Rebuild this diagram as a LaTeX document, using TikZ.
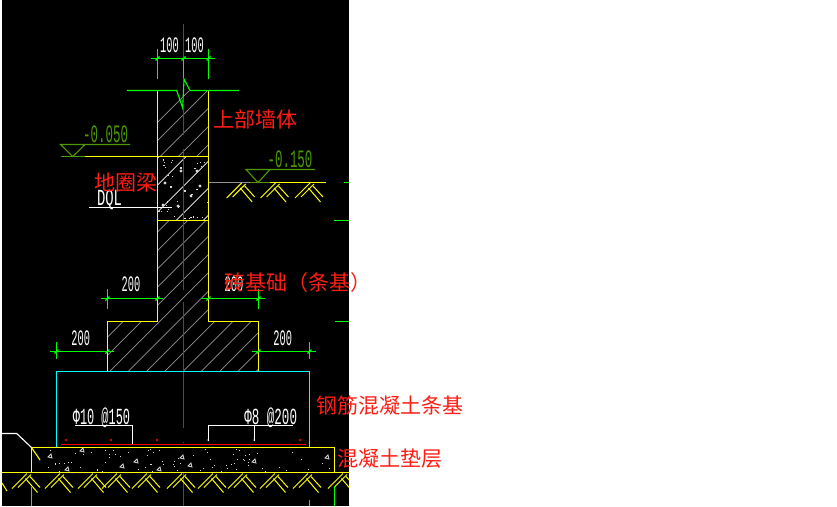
\documentclass[tikz,border=0pt]{standalone}
\usepackage{fontspec}
\newfontfamily\cjk{Noto Sans CJK SC}
\newfontfamily\cad[FakeStretch=0.47]{Liberation Mono}
\definecolor{cadyellow}{RGB}{255,255,0}
\definecolor{cadgreen}{RGB}{0,255,0}
\definecolor{cadcyan}{RGB}{0,255,255}
\definecolor{levelgreen}{RGB}{76,153,0}
\definecolor{labelred}{RGB}{255,30,20}
\tikzstyle{outline}=[draw=cadyellow,line width=1.1pt]
\tikzstyle{dimline}=[draw=cadgreen,line width=1.1pt]
\tikzstyle{levelline}=[draw=levelgreen,line width=1.1pt]
\tikzstyle{axisline}=[draw=red,line width=1pt]
\tikzstyle{hatchline}=[draw=gray!85,line width=0.7pt]
\tikzstyle{beamline}=[draw=white,line width=0.7pt]
\tikzstyle{leader}=[draw=white,line width=1.1pt]
\tikzstyle{soilline}=[draw=cadyellow,line width=1pt]
\tikzstyle{dimtext}=[text=white,inner sep=0pt,font=\cad\fontsize{22}{22}\selectfont]
\tikzstyle{leveltext}=[text=levelgreen,inner sep=0pt,font=\cad\fontsize{25}{25}\selectfont]
\tikzstyle{rebartext}=[text=white,inner sep=0pt,font=\cad\fontsize{23}{23}\selectfont]
\tikzstyle{partlabel}=[text=labelred,inner sep=0pt,anchor=west,font=\cjk\fontsize{21}{21}\selectfont]
\begin{document}
\begin{tikzpicture}[x=1pt,y=-1pt]
  \useasboundingbox (0,0) rectangle (837,506);
  \fill[white] (0,0) rectangle (837,506);
  \fill[black] (2,0) rectangle (349,506);
  % hatch of wall and steps
  \begin{scope}
    \clip (157.5,90.5)--(208.5,90.5)--(208.5,321.5)--(258.5,321.5)--(258.5,371.5)--(107.5,371.5)--(107.5,321.5)--(157.5,321.5)--cycle;
    \foreach \i in {-8,...,12}
      \draw[hatchline] ({128-18.3*\i},371.5) -- ++(320,-320);
  \end{scope}
  % ring beam
  \fill[black] (158,156.5) rectangle (208,220.5);
  \begin{scope}
    \clip (157.5,156.5) rectangle (208.5,220.5);
    \foreach \i in {0,...,4}
      \draw[beamline] ({95+27*\i},220.5) -- ++(100,-100);
    \pgfmathsetseed{17}
    \foreach \i in {1,...,40}
      \fill[white!85!black] ({157.5+50.8*rnd},{156.5+63.7*rnd}) rectangle ++(1.2,1.2);
    \foreach \p in {(165,183),(197,171),(181,171),(163,205),(191,196),(178,206),(200,186)}
      \fill[white!85!black] \p circle (1.6);
  \end{scope}
  % pad speckle
  \begin{scope}
    \clip (31,447.5) rectangle (334.5,472.5);
    \pgfmathsetseed{5}
    \foreach \i in {1,...,80}
      \fill[white!85!black] ({33+299*rnd},{449+22*rnd}) rectangle ++(1,1);
    \foreach \p in {(48,457),(80,451),(134,462),(180,458),(188,466),(252,462),(325,458),(65,470),(157,470),(120,467)}
      \draw[white!85!black,line width=0.8pt] \p -- ++(3,-3) -- ++(1,4) -- cycle;
  \end{scope}
  % axis
  \draw[axisline] (183.5,24)--(183.5,58);
  \draw[axisline] (183.5,108)--(183.5,135);
  \draw[axisline] (183.5,149)--(183.5,288);
  \draw[axisline] (183.5,302)--(183.5,428);
  \draw[axisline] (183.5,473)--(183.5,506);
  \draw[axisline] (183.5,288)--(183.5,289.5);
  \draw[axisline] (183.5,441.5)--(183.5,443);
  % outlines
  \draw[outline] (157.5,90.5)--(157.5,321.5)--(107.5,321.5)--(107.5,371.5)--(258.5,371.5)--(258.5,321.5)--(208.5,321.5)--(208.5,90.5);
  \draw[outline] (85,156.5)--(208.5,156.5);
  \draw[outline] (157.5,220.5)--(208.5,220.5);
  \draw[draw=cadcyan,line width=1.1pt] (56.5,447.5)--(56.5,371.5)--(309.5,371.5)--(309.5,447.5);
  \draw[outline] (31.5,472.5)--(31.5,447.5)--(334.5,447.5)--(334.5,472.5);
  \draw[outline] (2,472.5)--(349,472.5);
  \draw[leader] (2,433.5)--(16.7,433.5)--(31.5,447.5);
  \draw[outline] (31.5,447.5)--(40,460);
  % soil marks
  \begin{scope}
    \clip (2,472) rectangle (349,506);
    \foreach \a in {27,60,93,117,147,182,213,243,275,308,343} {
      \draw[soilline] (\a,473.5)--++(-15,15) (\a+4,474.5)--++(-13,13);
      \draw[soilline] (\a-1.5,478.5)--++(12,14) (\a+3,476.5)--++(10,11);
    }
    \draw[soilline] (2,483)--(7,491);
  \end{scope}
  \foreach \a in {241.7,275.5,310} {
    \draw[soilline] (\a,183)--++(-15,15) (\a+4,184)--++(-13,13);
    \draw[soilline] (\a-1.5,188)--++(12,14) (\a+3,186)--++(10,11);
  }
  % top break line
  \draw[dimline] (127,90.5)--(176.7,90.5)--(182.7,108)--(184,79)--(190,90.5)--(239,90.5);
  % dimensions
  \draw[dimline] (151,58.5)--(215,58.5);
  \draw[dimline] (157.5,49)--(157.5,78.7);
  \draw[dimline] (183.5,58.5)--(183.5,78);
  \draw[dimline] (208.5,49)--(208.5,78.7);
  \foreach \x in {157.5,183.5,208.5}
    \draw[dimline] (\x-2,60.5)--(\x+2,56.5);
  \draw[dimline] (101,298.5)--(163.3,298.5);
  \draw[dimline] (107.5,289)--(107.5,309);
  \draw[dimline] (201.7,298.5)--(265,298.5);
  \draw[dimline] (258.5,289)--(258.5,309);
  \foreach \x in {107.5,157.5,208.5,258.5}
    \draw[dimline] (\x-2,300.5)--(\x+2,296.5);
  \draw[dimline] (50,351.5)--(113.7,351.5);
  \draw[dimline] (56.5,342)--(56.5,358.7);
  \draw[dimline] (252,351.5)--(315.7,351.5);
  \draw[dimline] (309.5,342)--(309.5,358.7);
  \foreach \x in {56.5,107.5,258.5,309.5}
    \draw[dimline] (\x-2,353.5)--(\x+2,349.5);
  % stray green ends
  \draw[dimline] (31.5,487)--(31.5,506);
  \draw[dimline] (334.5,486)--(334.5,506);
  \draw[dimline] (309.5,500)--(309.5,506);
  \draw[dimline] (344,182.5)--(349,182.5);
  \draw[dimline] (334,220.5)--(349,220.5);
  \draw[dimline] (335,321.5)--(349,321.5);
  % levels
  \draw[levelline] (130,144.5)--(60.5,144.5)--(72.7,156.5)--(85,144.5);
  \draw[levelline] (60.5,156.5)--(85,156.5);
  \draw[levelline] (315,169.5)--(246,169.5)--(258,182.5)--(270,169.5);
  \draw[draw=gray!85,line width=1.1pt] (208.5,182.5)--(250,182.5);
  \draw[levelline] (250,182.5)--(270,182.5);
  \draw[outline] (270,182.5)--(325.7,182.5);
  % rebar
  \draw[draw=red,line width=1.3pt] (61,444.5)--(305.7,444.5);
  \foreach \x in {66,111,157,208,254,300}
    \draw[draw=red,line width=0.6pt] (\x,440) circle (1);
  % leaders
  \draw[leader] (75,425.5)--(132.5,425.5)--(132.5,444);
  \draw[leader] (208.5,441)--(208.5,425.5)--(293,425.5);
  \draw[leader] (254.5,425.5)--(254.5,441);
  \draw[leader] (89,207.5)--(172,207.5);
  % texts
  \node[dimtext] (wallleft) at (169.5,45.5) {100};
  \node[dimtext] (wallright) at (194.5,45.5) {100};
  \node[dimtext] (stepleft) at (131,284) {200};
  \node[dimtext] (stepright) at (234,284) {200};
  \node[dimtext] (baseleft) at (80.7,338) {200};
  \node[dimtext] (baseright) at (282.7,338) {200};
  \node[leveltext] (levelwall) at (105.6,134) {\scalebox{1.06}[1]{-0.050}};
  \node[leveltext] (levelsoil) at (290,159) {\scalebox{1.06}[1]{-0.150}};
  \node[rebartext] (rebarleft) at (101.5,417.5) {\scalebox{1.1}[1]{Φ10 @150}};
  \node[rebartext] (rebarright) at (270.7,417.5) {\scalebox{1.16}[1]{Φ8 @200}};
  \node[rebartext] (beamcode) at (109.5,199.5) {\scalebox{1.28}[1]{DQL}};
  \node[partlabel] (wall) at (213,119) {上部墙体};
  \node[partlabel] (beam) at (94.5,183) {地圈梁};
  \node[partlabel] (footing) at (224,283) {砖基础（条基）};
  \node[partlabel] (strip) at (316,406) {钢筋混凝土条基};
  \node[partlabel] (cushion) at (337,459) {混凝土垫层};
\end{tikzpicture}
\end{document}
